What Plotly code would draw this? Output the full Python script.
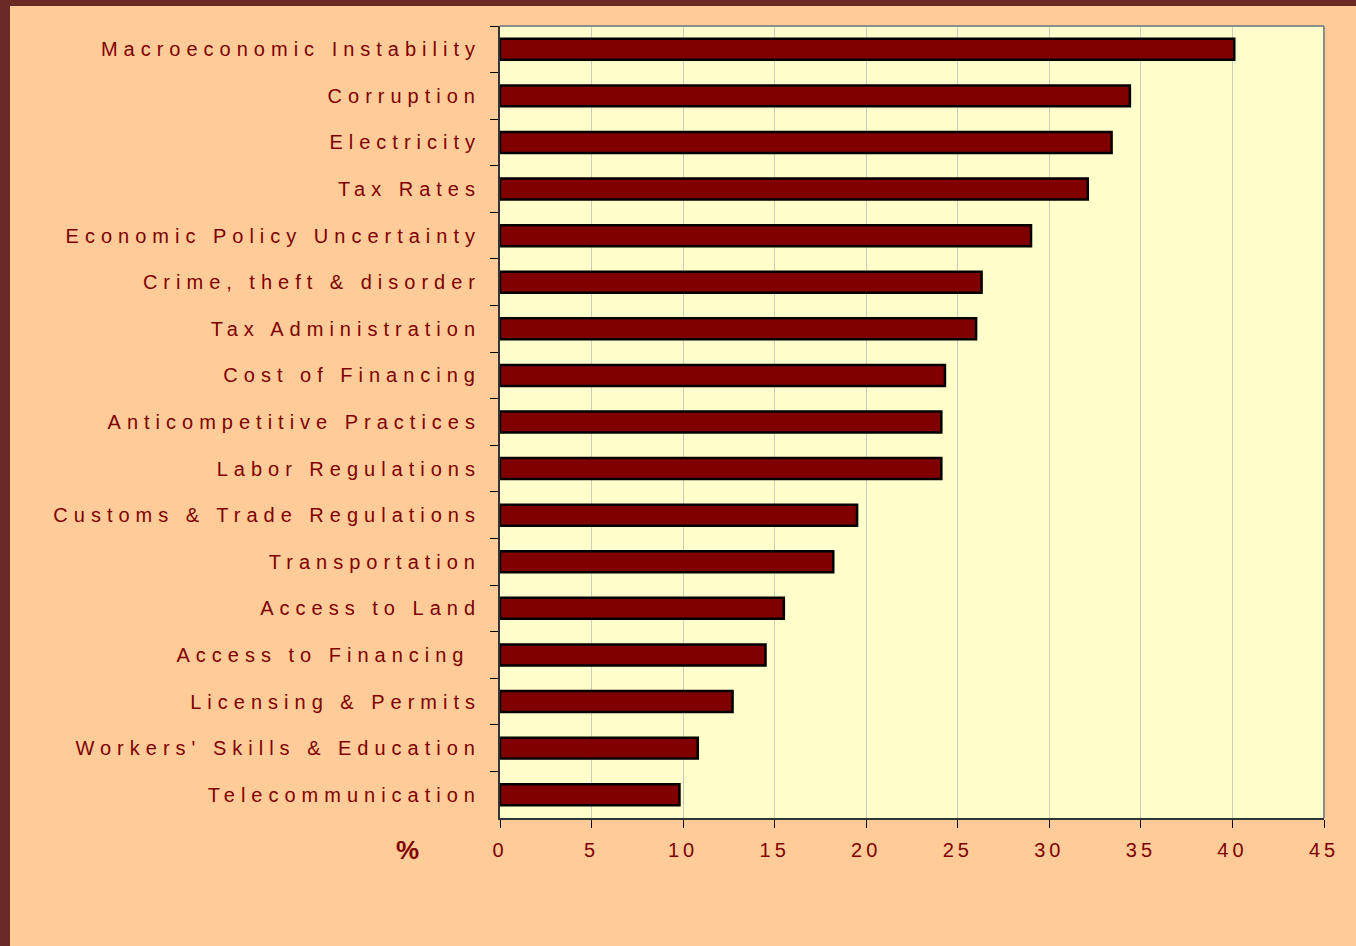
import plotly.graph_objects as go

categories = [
    "Macroeconomic Instability",
    "Corruption",
    "Electricity",
    "Tax Rates",
    "Economic Policy Uncertainty",
    "Crime, theft & disorder",
    "Tax Administration",
    "Cost of Financing",
    "Anticompetitive Practices",
    "Labor Regulations",
    "Customs & Trade Regulations",
    "Transportation",
    "Access to Land",
    "Access to Financing\u00a0",
    "Licensing & Permits",
    "Workers' Skills & Education",
    "Telecommunication",
]
values = [40.1, 34.4, 33.4, 32.1, 29.0, 26.3, 26.0, 24.3, 24.1, 24.1,
          19.5, 18.2, 15.5, 14.5, 12.7, 10.8, 9.8]
x_ticks = [0, 5, 10, 15, 20, 25, 30, 35, 40, 45]

TEXT = "#800000"
PEACH = "#FFCC99"
BROWN = "#6B2A23"
FONT = "Liberation Sans, Arial, sans-serif"

W, H = 1356, 946
L, R, T, B = 500, 32, 26, 128
pw, ph = W - L - R, H - T - B


def px_x(x):
    return (x - L) / pw


def px_y(y):
    return (H - B - y) / ph


fig = go.Figure(go.Bar(
    x=values, y=categories, orientation="h",
    marker=dict(color="#800000", line=dict(color="#000000", width=2.5)),
    width=0.45,
))

fig.update_layout(
    width=W, height=H,
    margin=dict(l=L, r=R, t=T, b=B, autoexpand=False),
    paper_bgcolor=PEACH, plot_bgcolor="#FFFFCC",
    showlegend=False,
    font=dict(family=FONT, color=TEXT, size=20),
    xaxis=dict(
        range=[0, 45], tickvals=x_ticks, ticktext=[str(v) for v in x_ticks],
        showgrid=True, gridcolor="#CBCBC0", gridwidth=1,
        showline=True, linecolor="#333333", linewidth=2,
        ticks="outside", ticklen=8, tickcolor="#000000", tickwidth=1,
        tickfont=dict(family=FONT, color=TEXT, size=20),
        ticklabelstandoff=5,
        zeroline=False, fixedrange=True,
    ),
    yaxis=dict(
        categoryorder="array", categoryarray=categories,
        autorange="reversed",
        showgrid=False,
        showline=True, linecolor="#333333", linewidth=2,
        ticks="outside", ticklen=8, tickcolor="#000000", tickwidth=1,
        tickson="boundaries",
        tickfont=dict(family=FONT, color=TEXT, size=20),
        ticklabelstandoff=13,
        fixedrange=True,
    ),
    shapes=[
        # brown frame at left and top
        dict(type="rect", xref="paper", yref="paper",
             x0=px_x(0), x1=px_x(10), y0=px_y(H), y1=px_y(0),
             fillcolor=BROWN, line=dict(width=0), layer="above"),
        dict(type="rect", xref="paper", yref="paper",
             x0=px_x(0), x1=px_x(W), y0=px_y(6), y1=px_y(0),
             fillcolor=BROWN, line=dict(width=0), layer="above"),
        # gray plot border top and right
        dict(type="line", xref="paper", yref="paper", x0=0, x1=1, y0=1, y1=1,
             line=dict(color="#8C8C8C", width=2)),
        dict(type="line", xref="paper", yref="paper", x0=1, x1=1, y0=0, y1=1,
             line=dict(color="#8C8C8C", width=2)),
    ],
    annotations=[
        dict(text="<b>%</b>", xref="paper", yref="paper",
             x=px_x(407), y=px_y(850), showarrow=False,
             font=dict(family=FONT, color=TEXT, size=26),
             xanchor="center", yanchor="middle"),
    ],
)

post_script = """
document.body.style.margin = '0';
document.body.style.overflow = 'hidden';
var gd = document.getElementById('{plot_id}');
function sp(){
  gd.querySelectorAll('.ytick text').forEach(function(t){ t.style.letterSpacing = '6px'; });
  gd.querySelectorAll('.xtick text').forEach(function(t){ t.style.letterSpacing = '4px'; });
}
sp();
gd.on('plotly_afterplot', sp);
"""

fig.write_html("out.html", post_script=post_script,
               config={"displayModeBar": False, "staticPlot": True})
